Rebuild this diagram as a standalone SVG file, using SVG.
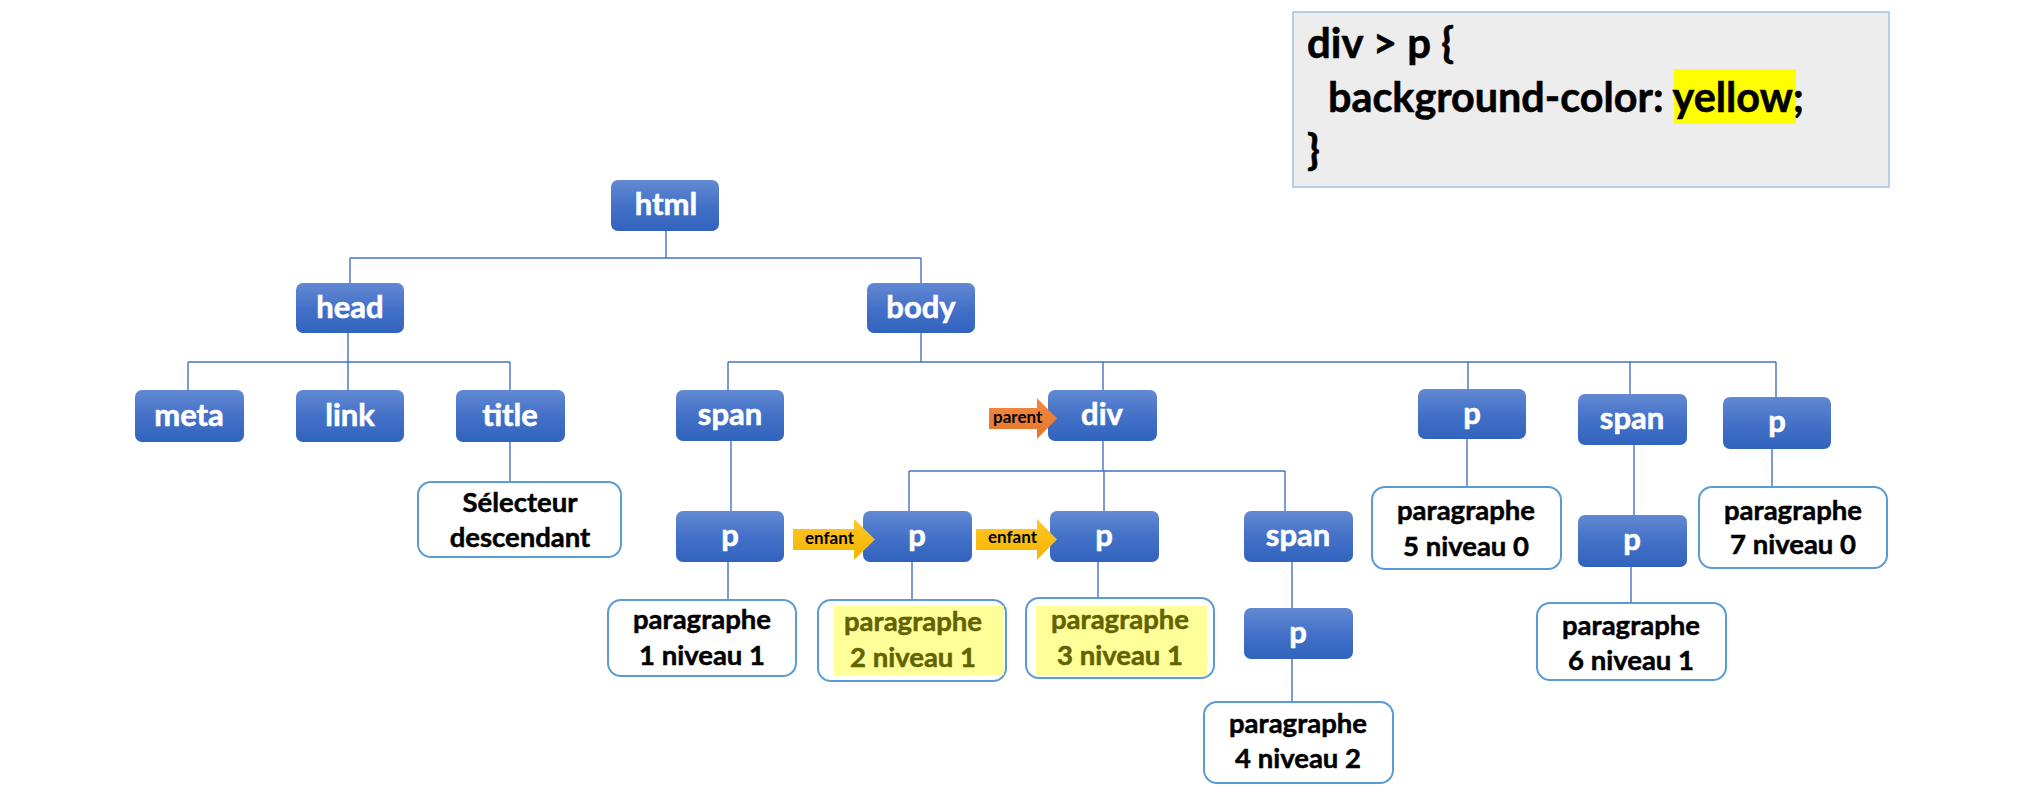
<svg xmlns="http://www.w3.org/2000/svg" width="2028" height="792" viewBox="0 0 2028 792">
<defs>
<linearGradient id="gNode" x1="0" y1="0" x2="0" y2="1">
<stop offset="0" stop-color="#6289d2"/>
<stop offset="0.5" stop-color="#4471c8"/>
<stop offset="1" stop-color="#3163bd"/>
</linearGradient>
<linearGradient id="gYel" x1="0" y1="0" x2="0" y2="1">
<stop offset="0" stop-color="#ffc729"/>
<stop offset="1" stop-color="#f4b400"/>
</linearGradient>
<linearGradient id="gOr" x1="0" y1="0" x2="0" y2="1">
<stop offset="0" stop-color="#f08a45"/>
<stop offset="1" stop-color="#e8752a"/>
</linearGradient>
<style>
.n rect{fill:url(#gNode);}
.n text{fill:#ffffff;stroke:#ffffff;stroke-width:0.6;font-family:Lato,"Liberation Sans",sans-serif;font-weight:bold;font-size:31px;text-anchor:middle;}
.pb rect.b{fill:#ffffff;stroke:#5b9bd5;stroke-width:2;}
.pb rect.h{fill:#ffff99;stroke:none;}
.pb text{fill:#000000;stroke:#000000;stroke-width:0.5;font-family:Lato,"Liberation Sans",sans-serif;font-weight:bold;font-size:27.5px;text-anchor:middle;}
.pb text.o{fill:#626200;stroke:#626200;}
.lbl{fill:#000000;font-family:Lato,"Liberation Sans",sans-serif;font-weight:bold;font-size:17px;}
.code{fill:#000000;stroke:#000000;stroke-width:0.6;font-family:Lato,"Liberation Sans",sans-serif;font-weight:bold;font-size:42px;}
#connectors path{fill:none;stroke:#4472c4;stroke-width:1.4;}
</style>
</defs>
<rect x="0" y="0" width="2028" height="792" fill="#ffffff"/>

<g id="code">
<rect x="1293" y="12" width="596" height="175" fill="#ededed" stroke="#9dc3e6" stroke-width="1.5"/>
<rect x="1674" y="69" width="122" height="55" fill="#ffff00"/>
<text class="code" x="1307" y="58" textLength="147" lengthAdjust="spacingAndGlyphs">div &gt; p {</text>
<text class="code" x="1328" y="112" textLength="476" lengthAdjust="spacingAndGlyphs">background-color: yellow;</text>
<text class="code" x="1307" y="165">}</text>
</g>

<g id="connectors">
<path d="M666 231V258M350 258H921M350 258V283M921 258V283"/>
<path d="M348 333V362M188 362H510M188 362V390M348 362V390M510 362V390"/>
<path d="M510 442V482"/>
<path d="M921 333V362M728 362H1776M728 362V390M1103 362V390M1468 362V389M1630 362V394M1776 362V397"/>
<path d="M731 441V511M728 562V600"/>
<path d="M1103 441V471M909 471H1285M909 471V511M1104 471V511M1285 471V511"/>
<path d="M912 562V599M1098 562V598"/>
<path d="M1292 562V608M1292 659V702"/>
<path d="M1467 439V487M1634 445V515M1631 567V603M1772 449V487"/>
</g>

<g id="html" class="n"><rect x="611" y="180" width="108" height="51" rx="7"/><text x="666" y="215">html</text></g>
<g id="head" class="n"><rect x="296" y="283" width="108" height="50" rx="7"/><text x="350" y="318">head</text></g>
<g id="body" class="n"><rect x="867" y="283" width="108" height="50" rx="7"/><text x="921" y="318">body</text></g>
<g id="meta" class="n"><rect x="135" y="390" width="109" height="52" rx="7"/><text x="189" y="426">meta</text></g>
<g id="link" class="n"><rect x="296" y="390" width="108" height="52" rx="7"/><text x="350" y="426">link</text></g>
<g id="title" class="n"><rect x="456" y="390" width="109" height="52" rx="7"/><text x="510" y="426">title</text></g>
<g id="span1" class="n"><rect x="676" y="390" width="108" height="51" rx="7"/><text x="730" y="425">span</text></g>
<g id="div" class="n"><rect x="1048" y="390" width="109" height="51" rx="7"/><text x="1102" y="425">div</text></g>
<g id="p5" class="n"><rect x="1418" y="389" width="108" height="50" rx="7"/><text x="1472" y="424">p</text></g>
<g id="span3" class="n"><rect x="1578" y="394" width="109" height="51" rx="7"/><text x="1632" y="429">span</text></g>
<g id="p7" class="n"><rect x="1723" y="397" width="108" height="52" rx="7"/><text x="1777" y="432">p</text></g>
<g id="p1" class="n"><rect x="676" y="511" width="108" height="51" rx="7"/><text x="730" y="546">p</text></g>
<g id="p2" class="n"><rect x="863" y="511" width="109" height="51" rx="7"/><text x="917" y="546">p</text></g>
<g id="p3" class="n"><rect x="1050" y="511" width="109" height="51" rx="7"/><text x="1104" y="546">p</text></g>
<g id="span2" class="n"><rect x="1244" y="511" width="109" height="51" rx="7"/><text x="1298" y="546">span</text></g>
<g id="p4" class="n"><rect x="1244" y="608" width="109" height="51" rx="7"/><text x="1298" y="643">p</text></g>
<g id="p6" class="n"><rect x="1578" y="515" width="109" height="52" rx="7"/><text x="1632" y="550">p</text></g>

<g id="selecteur" class="pb"><rect class="b" x="418" y="482" width="203" height="75" rx="13"/><text x="520" y="512">Sélecteur</text><text x="520" y="547">descendant</text></g>
<g id="para1" class="pb"><rect class="b" x="608" y="600" width="188" height="76" rx="13"/><text x="702" y="629">paragraphe</text><text x="702" y="665">1 niveau 1</text></g>
<g id="para2" class="pb"><rect class="b" x="818" y="600" width="188" height="81" rx="13"/><rect class="h" x="834" y="606" width="170" height="69"/><text class="o" x="913" y="631">paragraphe</text><text class="o" x="913" y="667">2 niveau 1</text></g>
<g id="para3" class="pb"><rect class="b" x="1026" y="598" width="188" height="80" rx="13"/><rect class="h" x="1036" y="606" width="171" height="69"/><text class="o" x="1120" y="629">paragraphe</text><text class="o" x="1120" y="665">3 niveau 1</text></g>
<g id="para4" class="pb"><rect class="b" x="1204" y="702" width="189" height="81" rx="13"/><text x="1298" y="733">paragraphe</text><text x="1298" y="768">4 niveau 2</text></g>
<g id="para5" class="pb"><rect class="b" x="1372" y="487" width="189" height="82" rx="13"/><text x="1466" y="520">paragraphe</text><text x="1466" y="556">5 niveau 0</text></g>
<g id="para6" class="pb"><rect class="b" x="1537" y="603" width="189" height="77" rx="13"/><text x="1631" y="635">paragraphe</text><text x="1631" y="670">6 niveau 1</text></g>
<g id="para7" class="pb"><rect class="b" x="1699" y="487" width="188" height="81" rx="13"/><text x="1793" y="520">paragraphe</text><text x="1793" y="554">7 niveau 0</text></g>

<g id="parent-arrow"><polygon points="989,408 1037,408 1037,398 1057,418.5 1037,439 1037,429 989,429" fill="url(#gOr)"/><text class="lbl" x="993" y="423">parent</text></g>
<g id="enfant1-arrow"><polygon points="793,529 854,529 854,519 875,539.5 854,560 854,550 793,550" fill="url(#gYel)"/><text class="lbl" x="805" y="544">enfant</text></g>
<g id="enfant2-arrow"><polygon points="976,529 1037,529 1037,519 1057,539.5 1037,560 1037,550 976,550" fill="url(#gYel)"/><text class="lbl" x="988" y="543">enfant</text></g>
</svg>
